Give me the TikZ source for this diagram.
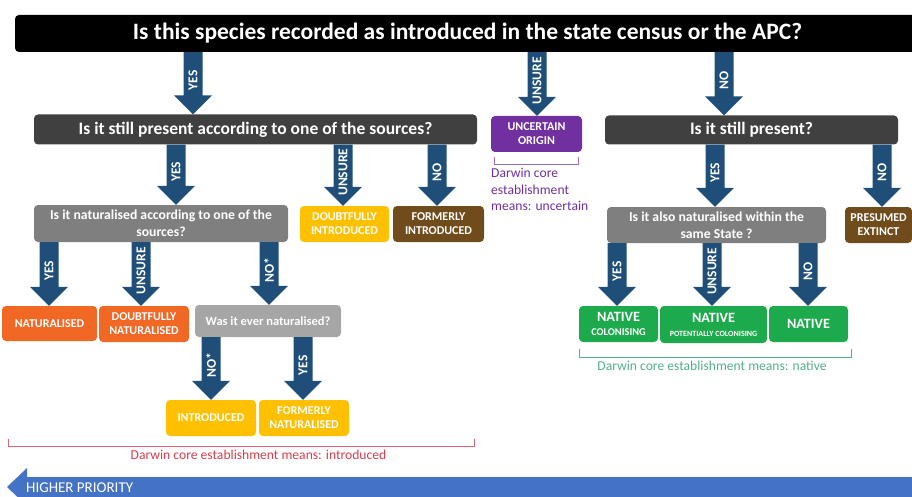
\documentclass[tikz,border=0pt]{standalone}
\usepackage{fontspec}
\setmainfont{Carlito}
\usetikzlibrary{calc}
\definecolor{arrowblue}{RGB}{31,78,121}
\definecolor{bardark}{RGB}{64,64,64}
\definecolor{barmid}{RGB}{127,127,127}
\definecolor{barlight}{RGB}{166,166,166}
\definecolor{purpleorigin}{RGB}{112,48,160}
\definecolor{goldbox}{RGB}{255,192,0}
\definecolor{brownbox}{RGB}{112,76,28}
\definecolor{orangebox}{RGB}{241,103,36}
\definecolor{greenbox}{RGB}{29,170,76}
\definecolor{redtext}{RGB}{215,62,76}
\definecolor{greentext}{RGB}{82,176,134}
\definecolor{prioblue}{RGB}{68,114,196}
\newcommand{\flowarrow}[4]{%
	\fill[fill=arrowblue] let \p1=(#1.south), \p2=(#2.north) in
	({#3pt-9.5pt},\y1) -- ({#3pt+9.5pt},\y1) -- ({#3pt+9.5pt},\y2+19pt)
	-- ({#3pt+19pt},\y2+19pt) -- (#3pt,\y2) -- ({#3pt-19pt},\y2+19pt)
	-- ({#3pt-9.5pt},\y2+19pt) -- cycle
	node[arrowlabel] at (#3pt,{0.55*\y1+0.45*\y2}) {#4};}
\begin{document}
\begin{tikzpicture}[x=1pt, y=-1pt,
		box/.style = {shape=rectangle, rounded corners=4pt, align=center,
			text=white, font=\bfseries\fontsize{12}{14}\selectfont,
			inner sep=1pt},
		question/.style = {box, font=\bfseries\fontsize{17.5}{20}\selectfont},
		arrowlabel/.style = {rotate=90, text=white, inner sep=0pt,
			font=\bfseries\fontsize{13.5}{14}\selectfont},
		means/.style = {font=\fontsize{13.6}{16.5}\selectfont, inner sep=0pt}]
	\useasboundingbox (0,0) rectangle (912,497);
	\node[question, fill=black, minimum width=905, minimum height=37,
		font=\bfseries\fontsize{23.5}{26}\selectfont] (title) at (467.5,33.5)
		{Is this species recorded as introduced in the state census or the APC?};
	\node[question, fill=bardark, minimum width=443, minimum height=30] (present) at (255.5,129.5)
		{Is it still present according to one of the sources?};
	\node[box, fill=purpleorigin, minimum width=91, minimum height=36] (uncertain) at (536.5,134)
		{UNCERTAIN\\ORIGIN};
	\node[question, fill=bardark, minimum width=293, minimum height=29] (stillpresent) at (751.5,130)
		{Is it still present?};
	\node[box, fill=barmid, minimum width=254, minimum height=37,
		font=\bfseries\fontsize{13.7}{17}\selectfont] (naturalised) at (161,223.5)
		{Is it naturalised according to one of the\\sources?};
	\node[box, fill=goldbox, minimum width=89, minimum height=36] (doubtintro) at (344.5,224)
		{DOUBTFULLY\\INTRODUCED};
	\node[box, fill=brownbox, minimum width=91, minimum height=36] (formintro) at (438.5,224)
		{FORMERLY\\INTRODUCED};
	\node[box, fill=barmid, minimum width=219, minimum height=36,
		font=\bfseries\fontsize{13.7}{17}\selectfont] (alsonat) at (716.5,225)
		{Is it also naturalised within the\\same State ?};
	\node[box, fill=brownbox, minimum width=67, minimum height=36] (extinct) at (878.5,225)
		{PRESUMED\\EXTINCT};
	\node[box, fill=orangebox, minimum width=95, minimum height=35] (nat) at (49.5,323.5)
		{NATURALISED};
	\node[box, fill=orangebox, minimum width=90, minimum height=36] (doubtnat) at (144,324)
		{DOUBTFULLY\\NATURALISED};
	\node[box, fill=barlight, minimum width=146, minimum height=32,
		font=\bfseries\fontsize{12.5}{14}\selectfont] (evernat) at (268,321)
		{Was it ever naturalised?};
	\node[box, fill=goldbox, minimum width=90, minimum height=36] (intro) at (211,418)
		{INTRODUCED};
	\node[box, fill=goldbox, minimum width=90, minimum height=36] (formnat) at (304,418)
		{FORMERLY\\NATURALISED};
	\node[box, fill=greenbox, minimum width=79, minimum height=36] (natcol) at (618.5,324)
		{{\fontsize{14.2}{15}\selectfont NATIVE}\\{\fontsize{10.4}{12}\selectfont COLONISING}};
	\node[box, fill=greenbox, minimum width=107, minimum height=37] (natpot) at (713.5,324.5)
		{{\fontsize{14.2}{15}\selectfont NATIVE}\\{\fontsize{8}{10}\selectfont POTENTIALLY COLONISING}};
	\node[box, fill=greenbox, minimum width=79, minimum height=36,
		font=\bfseries\fontsize{14.2}{15}\selectfont] (native) at (808.5,324)
		{NATIVE};
	\flowarrow{title}{present}{193}{YES}
	\flowarrow{title}{uncertain}{537}{UNSURE}
	\flowarrow{title}{stillpresent}{724}{NO}
	\flowarrow{present}{naturalised}{176}{YES}
	\flowarrow{present}{doubtintro}{343}{UNSURE}
	\flowarrow{present}{formintro}{437}{NO}
	\flowarrow{stillpresent}{alsonat}{715}{YES}
	\flowarrow{stillpresent}{extinct}{882}{NO}
	\flowarrow{naturalised}{nat}{49}{YES}
	\flowarrow{naturalised}{doubtnat}{141}{UNSURE}
	\flowarrow{naturalised}{evernat}{269}{NO*}
	\flowarrow{evernat}{intro}{211}{NO*}
	\flowarrow{evernat}{formnat}{303}{YES}
	\flowarrow{alsonat}{natcol}{617}{YES}
	\flowarrow{alsonat}{natpot}{712}{UNSURE}
	\flowarrow{alsonat}{native}{808}{NO}
	\draw[purpleorigin!70] (494,157) -- (494,164) -- (578,164) -- (578,157);
	\node[means, text=purpleorigin, align=left, anchor=north west] (uncmeans) at (491,168)
		{Darwin core\\establishment\\means: uncertain};
	\draw[redtext!80] (8,439) -- (8,446) -- (474,446) -- (474,439);
	\node[means, text=redtext] (intmeans) at (258.5,455) {Darwin core establishment means: introduced};
	\draw[greentext] (579,349) -- (579,357) -- (851,357) -- (851,349);
	\node[means, text=greentext] (natmeans) at (712,366) {Darwin core establishment means: native};
	\fill[prioblue] (7,487) -- (27,468) -- (27,477) -- (920,477) -- (920,497) -- (27,497)
		-- (27,506) -- cycle;
	\node[means, text=white, anchor=west, font=\fontsize{15}{16}\selectfont] (priority) at (26,487.5)
		{HIGHER PRIORITY};
\end{tikzpicture}
\end{document}
